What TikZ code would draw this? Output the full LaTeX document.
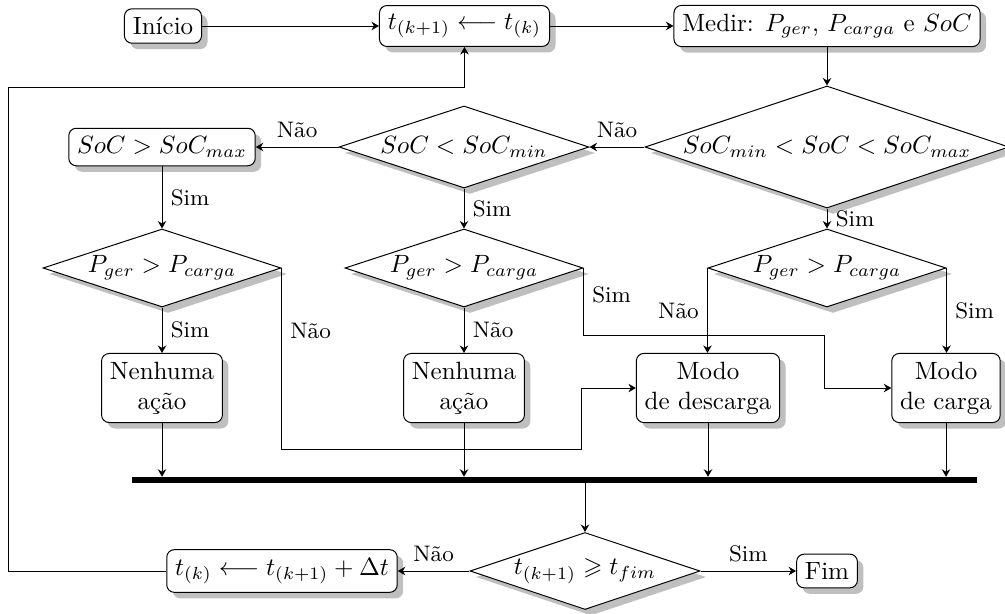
\documentclass[tikz,border=0pt]{standalone}
\usepackage{amssymb}
\usetikzlibrary{arrows.meta,calc,shadows,shapes.geometric}
\tikzset{
  sombra/.style={drop shadow={shadow xshift=2.4pt,shadow yshift=-2.4pt,fill=black!25,opacity=1}},
  bloco/.style={draw,rounded corners=3pt,fill=white,align=center,sombra},
  decisao/.style={draw,diamond,aspect=3,inner sep=0pt,fill=white,sombra},
  seta/.style={-{Stealth[length=3pt,width=3.4pt]},line width=0.4pt},
  barra/.style={fill=black,inner sep=0pt,minimum height=2.2pt},
  rotulo/.style={font=\small},
}

\begin{document}
\begin{tikzpicture}[x=0.4pt,y=0.4pt]
  \useasboundingbox (0,0) rectangle (1005,-613);

  % linha de cima
  \node[bloco] (ini) at (163,-26)   {Início};
  \node[bloco] (tk)  at (464.5,-26) {$t_{(k+1)} \longleftarrow t_{(k)}$};
  \node[bloco] (med) at (827,-26)   {Medir: $P_{ger}$, $P_{carga}$ e $SoC$};
  \draw[seta] (ini) -- (tk);
  \draw[seta] (tk) -- (med);

  % testes do SoC
  \node[decisao,minimum width=145.6pt,minimum height=48.8pt] (c1) at (827,-147) {$SoC_{min} < SoC < SoC_{max}$};
  \node[decisao,minimum width=100pt,minimum height=32.8pt]   (c2) at (464,-147) {$SoC < SoC_{min}$};
  \node[bloco] (soc) at (162,-147) {$SoC > SoC_{max}$};
  \draw[seta] (med) -- (c1);
  \draw[seta] (c1) -- (c2) node[midway,above,rotulo] {Não};
  \draw[seta] (c2) -- (soc) node[midway,above,rotulo] {Não};

  % testes de potencia
  \node[decisao,minimum width=95.2pt,minimum height=31.2pt] (p1) at (162,-268) {$P_{ger} > P_{carga}$};
  \node[decisao,minimum width=95.2pt,minimum height=31.2pt] (p2) at (464,-268) {$P_{ger} > P_{carga}$};
  \node[decisao,minimum width=95.2pt,minimum height=31.2pt] (p3) at (827,-268) {$P_{ger} > P_{carga}$};
  \draw[seta] (soc) -- (p1) node[midway,right,rotulo] {Sim};
  \draw[seta] (c2) -- (p2) node[midway,right,rotulo] {Sim};
  \draw[seta] (c1) -- (p3) node[midway,right,rotulo] {Sim};

  % acoes
  \node[bloco] (nen1) at (162,-388) {Nenhuma\\ação};
  \node[bloco] (nen2) at (464,-388) {Nenhuma\\ação};
  \node[bloco] (des)  at (708,-388) {Modo\\de descarga};
  \node[bloco] (car)  at (946,-388) {Modo\\de carga};
  \draw[seta] (p1) -- (nen1) node[midway,right,rotulo] {Sim};
  \draw[seta] (p2) -- (nen2) node[midway,right,rotulo] {Não};
  \draw[seta] (p3.west) -- (p3.west |- des.north) node[midway,left,rotulo] {Não};
  \draw[seta] (p3.east) -- (p3.east |- car.north) node[midway,right,rotulo] {Sim};
  \draw[seta] (p1.east) -- ++(0,-181) node[pos=.35,right,rotulo] {Não} -| ($(des.west)+(-54,0)$) -- (des.west);
  \draw[seta] (p2.east) -- ++(0,-67) node[pos=.4,right,rotulo] {Sim} -| ($(car.west)+(-67,0)$) -- (car.west);

  % barramento
  \node[barra,minimum width=338pt] (bus) at (554.5,-480) {};
  \foreach \n in {nen1,nen2,des,car}
    \draw[seta] (\n) -- (\n |- bus.north);

  % teste final
  \node[decisao,minimum width=92pt,minimum height=30.8pt] (tf) at (585,-571) {$t_{(k+1)} \geqslant t_{fim}$};
  \node[bloco] (atual) at (282,-571) {$t_{(k)} \longleftarrow t_{(k+1)} + \Delta t$};
  \node[bloco] (fim)   at (827,-571) {Fim};
  \draw[seta] (bus.south -| tf.north) -- (tf.north);
  \draw[seta] (tf) -- (atual) node[midway,above,rotulo] {Não};
  \draw[seta] (tf) -- (fim) node[midway,above,rotulo] {Sim};
  \draw[seta] (atual.west) -- ++(-158,0) |- ($(tk.south)+(0,-41)$) -- (tk.south);

\end{tikzpicture}
\end{document}
